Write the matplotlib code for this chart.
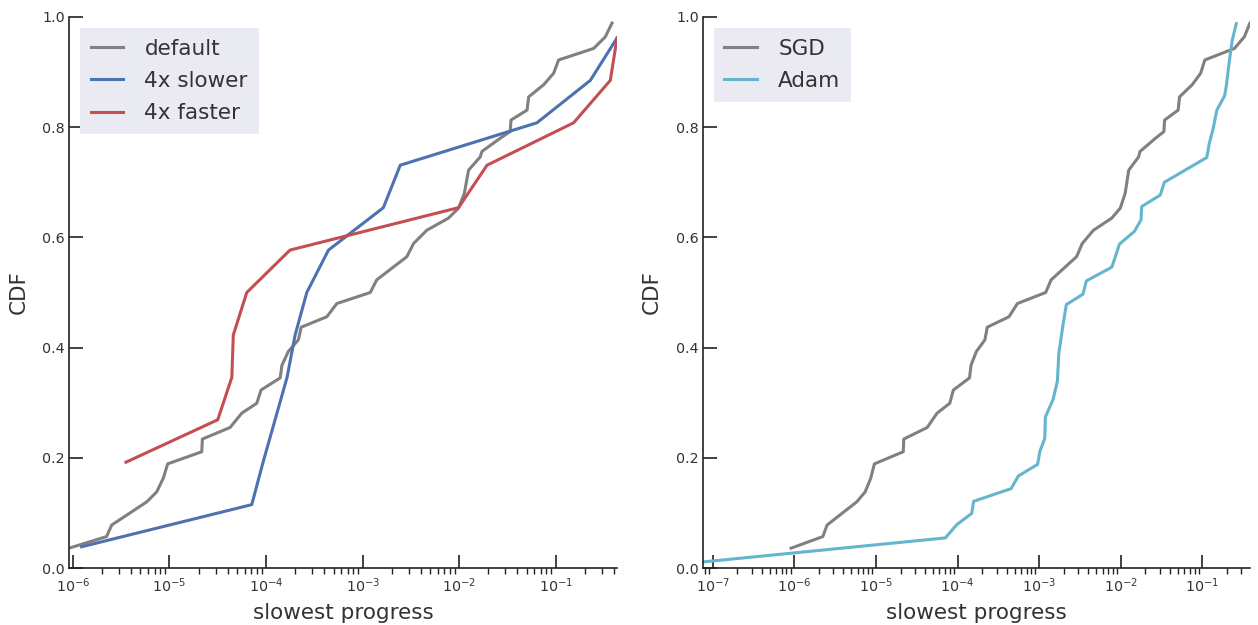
import matplotlib
matplotlib.use("Agg")
import matplotlib.pyplot as plt
from matplotlib.ticker import LogLocator, NullFormatter

# default / SGD run (same data in both panels)
default_x = [9.12e-7, 2.23e-6, 2.52e-6, 5.81e-6, 7.36e-6, 8.63e-6, 9.57e-6, 2.16e-5, 2.19e-5,
             4.24e-5, 5.60e-5, 8.02e-5, 8.87e-5, 1.40e-4, 1.46e-4, 1.70e-4, 2.16e-4, 2.31e-4,
             4.26e-4, 5.41e-4, 1.20e-3, 1.40e-3, 2.87e-3, 3.37e-3, 4.62e-3, 7.74e-3, 9.84e-3,
             1.13e-2, 1.25e-2, 1.65e-2, 1.72e-2, 2.66e-2, 3.37e-2, 3.44e-2, 5.04e-2, 5.24e-2,
             7.48e-2, 9.51e-2, 0.107, 0.247, 0.326, 0.382]
default_y = [0.036, 0.057, 0.078, 0.120, 0.138, 0.163, 0.189, 0.211, 0.234,
             0.255, 0.281, 0.299, 0.323, 0.345, 0.368, 0.393, 0.414, 0.437,
             0.456, 0.480, 0.500, 0.523, 0.565, 0.589, 0.613, 0.635, 0.653,
             0.680, 0.722, 0.746, 0.756, 0.780, 0.792, 0.813, 0.831, 0.855,
             0.877, 0.898, 0.922, 0.943, 0.964, 0.989]

slower_x = [1.23e-6, 7.11e-5, 9.31e-5, 1.65e-4, 2.0e-4, 2.64e-4, 4.43e-4, 1.64e-3, 2.45e-3,
            6.38e-2, 0.228, 0.431]
slower_y = [0.0385, 0.115, 0.192, 0.346, 0.423, 0.500, 0.577, 0.654, 0.731, 0.808, 0.885, 0.962]

faster_x = [3.54e-6, 3.16e-5, 4.42e-5, 4.58e-5, 6.31e-5, 1.77e-4, 9.84e-3, 1.94e-2, 0.153,
            0.367, 0.431]
faster_y = [0.192, 0.269, 0.346, 0.423, 0.500, 0.577, 0.654, 0.731, 0.808, 0.885, 0.962]

adam_x = [7.59e-8, 7.08e-5, 9.82e-5, 1.49e-4, 1.57e-4, 4.52e-4, 5.55e-4, 9.55e-4, 1.02e-3,
          1.17e-3, 1.19e-3, 1.48e-3, 1.67e-3, 1.74e-3, 1.96e-3, 2.15e-3, 3.44e-3, 3.78e-3,
          7.76e-3, 9.64e-3, 1.47e-2, 1.77e-2, 1.80e-2, 3.05e-2, 3.41e-2, 0.113, 0.121,
          0.136, 0.150, 0.187, 0.197, 0.213, 0.232, 0.260]
adam_y = [0.011, 0.0546, 0.079, 0.099, 0.121, 0.144, 0.167, 0.188, 0.212,
          0.235, 0.274, 0.306, 0.339, 0.390, 0.442, 0.478, 0.497, 0.521,
          0.546, 0.588, 0.611, 0.632, 0.656, 0.677, 0.700, 0.745, 0.770,
          0.799, 0.831, 0.857, 0.877, 0.919, 0.958, 0.988]

GRAY = "#808080"
BLUE = "#4C72B0"
RED = "#C44E52"
CYAN = "#64B5CD"
TXT = "#333333"

plt.rcParams["font.family"] = "DejaVu Sans"

fig = plt.figure(figsize=(12.58, 6.25), dpi=100)
ax1 = fig.add_axes([0.0549, 0.0912, 0.4356, 0.8816])
ax2 = fig.add_axes([0.5588, 0.0912, 0.4348, 0.8816])

ax1.plot(default_x, default_y, color=GRAY, lw=2.2, label="default")
ax1.plot(slower_x, slower_y, color=BLUE, lw=2.2, label="4x slower")
ax1.plot(faster_x, faster_y, color=RED, lw=2.2, label="4x faster")
ax1.set_xlim(min(default_x), max(slower_x))

ax2.plot(default_x, default_y, color=GRAY, lw=2.2, label="SGD")
ax2.plot(adam_x, adam_y, color=CYAN, lw=2.2, label="Adam")
ax2.set_xlim(min(adam_x), max(default_x))

for ax in (ax1, ax2):
    ax.set_xscale("log")
    ax.set_ylim(0, 1.0)
    ax.set_yticks([0.0, 0.2, 0.4, 0.6, 0.8, 1.0])
    ax.xaxis.set_major_locator(LogLocator(base=10, numticks=20))
    ax.xaxis.set_minor_locator(LogLocator(base=10, subs=range(2, 10), numticks=20))
    ax.xaxis.set_minor_formatter(NullFormatter())
    for s in ("top", "right"):
        ax.spines[s].set_visible(False)
    for s in ("left", "bottom"):
        ax.spines[s].set_color("#222222")
        ax.spines[s].set_linewidth(1.2)
    ax.tick_params(axis="x", which="major", direction="in", length=9.5, width=1.2,
                   color="#222222", labelsize=10.3, labelcolor=TXT, pad=6)
    ax.tick_params(axis="x", which="minor", direction="out", length=4.3, width=1,
                   color="#222222")
    ax.tick_params(axis="y", which="major", direction="in", length=10, width=1.2,
                   color="#222222", labelsize=10.3, labelcolor=TXT, pad=3)
    ax.set_xlabel("slowest progress", fontsize=15.5, color=TXT, labelpad=6)
    ax.set_ylabel("CDF", fontsize=15.5, color=TXT, labelpad=10)
    leg = ax.legend(loc="upper left", fontsize=15.5, frameon=True, fancybox=False,
                    handlelength=1.5, borderaxespad=0.5, handletextpad=1.0,
                    labelspacing=0.58, borderpad=0.5)
    leg.get_frame().set_facecolor("#EAEAF2")
    leg.get_frame().set_edgecolor("none")
    leg.get_frame().set_alpha(1)
    for t in leg.get_texts():
        t.set_color(TXT)

fig.savefig("out.png", dpi=100)
